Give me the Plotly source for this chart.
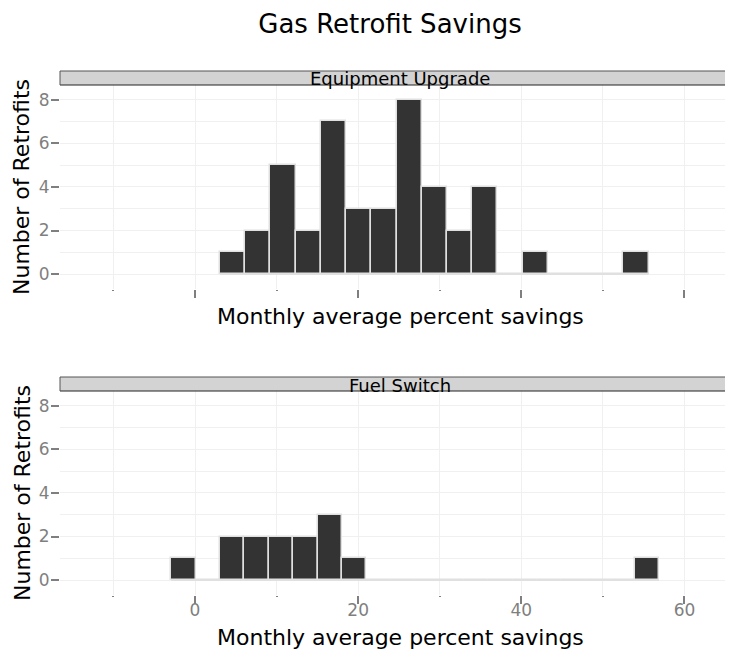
"""Histogramas facetados de ahorro de gas por tipo de retrofit."""

import plotly.graph_objects as go

# Conteos por bin
equip_counts = [1, 2, 5, 2, 7, 3, 3, 8, 4, 2, 4, 0, 1, 0, 0, 0, 1]
equip_bin_start = 3.07
equip_bin_width = 3.09

fuel_counts = [1, 0, 2, 2, 2, 2, 3, 1, 0, 0, 0, 0, 0, 0, 0, 0, 0, 0, 0, 1]
fuel_bin_start = -2.92
fuel_bin_width = 2.99

panel_labels = ["Equipment Upgrade", "Fuel Switch"]
x_tick_vals = [0, 20, 40, 60]
y_tick_vals = [0, 2, 4, 6, 8]

FONT = "DejaVu Sans"
BAR_FILL = "#333333"
BAR_EDGE = "#e0e0e0"
GRID_MINOR = "#f0f0f0"
TICK_GRAY = "#7f7f7f"
OFF = 8  # margen del <body> de la página
W, H = 733 - OFF, 650 - OFF
LEFT = 60 - OFF

# (top_px, bottom_px) de cada panel y su strip, en píxeles de pantalla
panels_px = [(85, 289), (391, 595)]
strips_px = [(71, 85), (377, 391)]
xtitle_px = [316, 637]


def py(px):
    return 1 - (px - OFF) / H


def px_x(px):
    return (px - OFF - LEFT) / (W - LEFT)


fig = go.Figure()

for i, (counts, start, width) in enumerate(
    (
        (equip_counts, equip_bin_start, equip_bin_width),
        (fuel_counts, fuel_bin_start, fuel_bin_width),
    )
):
    xa = "x" if i == 0 else "x2"
    ya = "y" if i == 0 else "y2"
    edges = [start, start + width * len(counts)]
    # línea base de los bins vacíos
    fig.add_trace(
        go.Scatter(
            x=edges,
            y=[0, 0],
            mode="lines",
            line={"color": BAR_EDGE, "width": 1.6},
            xaxis=xa,
            yaxis=ya,
            hoverinfo="skip",
            showlegend=False,
        )
    )
    centers = [start + width * (k + 0.5) for k in range(len(counts))]
    fig.add_trace(
        go.Bar(
            x=centers,
            y=counts,
            width=width,
            marker={"color": BAR_FILL, "line": {"color": BAR_EDGE, "width": 1.5}},
            xaxis=xa,
            yaxis=ya,
            showlegend=False,
        )
    )

axis_common = dict(
    range=[-16.55, 65.95],
    tickvals=x_tick_vals,
    ticks="outside",
    ticklen=8,
    tickwidth=1.5,
    tickcolor=TICK_GRAY,
    showgrid=False,
    zeroline=False,
    showline=False,
    ticklabelstandoff=-8,
    tickfont={"family": FONT, "size": 17, "color": TICK_GRAY},
    minor={"dtick": 10, "tick0": 0, "showgrid": True, "gridcolor": GRID_MINOR,
           "ticks": "outside", "ticklen": 1, "tickcolor": TICK_GRAY},
)
yaxis_common = dict(
    range=[-0.68, 8.67],
    tickvals=y_tick_vals,
    ticks="outside",
    ticklen=8,
    tickwidth=1.5,
    tickcolor=TICK_GRAY,
    showgrid=False,
    zeroline=False,
    showline=False,
    ticklabelstandoff=-2,
    tickfont={"family": FONT, "size": 17, "color": TICK_GRAY},
    minor={"dtick": 1, "tick0": 0, "showgrid": True, "gridcolor": GRID_MINOR},
)

fig.update_layout(
    width=W,
    height=H,
    autosize=False,
    margin={"l": LEFT, "r": 0, "t": 0, "b": 0},
    plot_bgcolor="white",
    paper_bgcolor="white",
    bargap=0,
    font={"family": FONT},
    title={
        "text": "Gas Retrofit Savings",
        "x": (390 - OFF) / W,
        "xanchor": "center",
        "y": py(24),
        "yanchor": "middle",
        "font": {"family": FONT, "size": 26, "color": "black"},
    },
    xaxis={**axis_common, "domain": [0, 1], "anchor": "y", "showticklabels": False},
    yaxis={**yaxis_common, "domain": [py(panels_px[0][1]), py(panels_px[0][0])],
           "anchor": "x"},
    xaxis2={**axis_common, "domain": [0, 1], "anchor": "y2"},
    yaxis2={**yaxis_common, "domain": [py(panels_px[1][1]), py(panels_px[1][0])],
            "anchor": "x2"},
)

for i, label in enumerate(panel_labels):
    s_top, s_bot = strips_px[i]
    # strip gris: relleno + bordes superior, inferior e izquierdo
    fig.add_shape(
        type="rect", xref="paper", yref="paper",
        x0=0, x1=1.05, y0=py(s_bot), y1=py(s_top),
        fillcolor="#d3d3d3", line={"width": 0}, layer="above",
    )
    for yy, col in ((s_top, "#555555"), (s_bot, "#222222")):
        fig.add_shape(
            type="line", xref="paper", yref="paper",
            x0=0, x1=1.05, y0=py(yy), y1=py(yy),
            line={"color": col, "width": 1}, layer="above",
        )
    fig.add_shape(
        type="line", xref="paper", yref="paper",
        x0=0, x1=0, y0=py(s_bot), y1=py(s_top),
        line={"color": "#555555", "width": 1}, layer="above",
    )
    fig.add_annotation(
        text=label,
        xref="paper",
        yref="paper",
        x=px_x(400),
        y=py((s_top + s_bot) / 2 + 1),
        xanchor="center",
        yanchor="middle",
        showarrow=False,
        font={"family": FONT, "size": 18, "color": "black"},
    )
    p_top, p_bot = panels_px[i]
    fig.add_annotation(
        text="Number of Retrofits",
        xref="paper",
        yref="paper",
        x=px_x(22),
        y=py((p_top + p_bot) / 2),
        xanchor="center",
        yanchor="middle",
        textangle=-90,
        showarrow=False,
        font={"family": FONT, "size": 22, "color": "black"},
    )
    fig.add_annotation(
        text="Monthly average percent savings",
        xref="paper",
        yref="paper",
        x=px_x(400),
        y=py(xtitle_px[i]),
        xanchor="center",
        yanchor="middle",
        showarrow=False,
        font={"family": FONT, "size": 22, "color": "black"},
    )

fig.write_html("out.html")
